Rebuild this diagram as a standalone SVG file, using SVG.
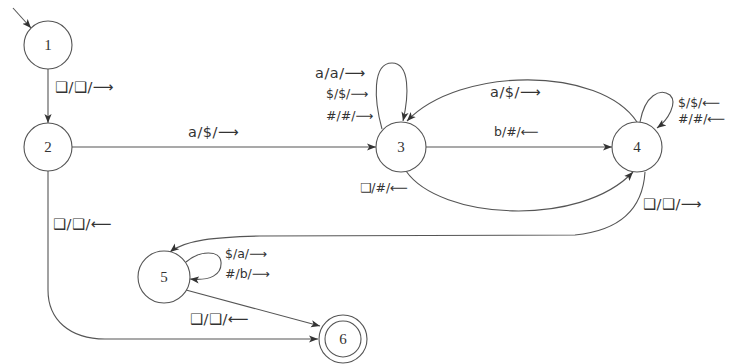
<svg xmlns="http://www.w3.org/2000/svg" width="736" height="364" viewBox="0 0 736 364">
<style>
.st{fill:#fff;stroke:#555;stroke-width:1.1}
.num{font-family:"Liberation Serif",serif;font-size:15px;fill:#333;text-anchor:middle}
.e{fill:none;stroke:#555;stroke-width:1.1;marker-end:url(#ah)}
.lb{font-family:"DejaVu Sans","Liberation Sans",sans-serif;font-size:14.5px;fill:#333;letter-spacing:0.5px}
.sm{font-size:12.5px;letter-spacing:0}
</style>
<defs>
<marker id="ah" viewBox="0 0 10 10" refX="10" refY="5" markerWidth="9" markerHeight="9" markerUnits="userSpaceOnUse" orient="auto">
<path d="M0,1 L10,5 L0,9 L2.5,5 Z" fill="#333"/>
</marker>
</defs>
<g id="connectors">
<path class="e" d="M13,8 L31,28"/>
<path class="e" d="M48,69 L48,123"/>
<path class="e" d="M72,147 L376,147"/>
<path class="e" d="M426,147 L612,147"/>
<path class="e" d="M382,129 C374,100 372,63 392,63 C410,63 409,95 403,121"/>
<path class="e" d="M637,122 C600,66 460,66 407,121"/>
<path class="e" d="M640,122 C645,95 660,88 670,95 C678,103 668,120 657,128"/>
<path class="e" d="M406,171 C440,220 580,228 633,172"/>
<path class="e" d="M645,172 C643,205 625,230 575,235 L260,236 C215,237 185,240 170,252"/>
<path class="e" d="M186,262 C200,250 220,250 221,262 C222,275 210,281 190,279"/>
<path class="e" d="M186,290 L320,326"/>
<path class="e" d="M48,171 L48,290 C48,320 70,339 105,339 L318,339"/>
</g>
<g id="n1"><circle class="st" cx="48" cy="45" r="24"/><text class="num" x="48" y="50">1</text></g>
<g id="n2"><circle class="st" cx="48" cy="147" r="24"/><text class="num" x="48" y="152">2</text></g>
<g id="n3"><circle class="st" cx="401" cy="147" r="25"/><text class="num" x="401" y="152">3</text></g>
<g id="n4"><circle class="st" cx="637" cy="147" r="25"/><text class="num" x="637" y="152">4</text></g>
<g id="n5"><circle class="st" cx="164" cy="277" r="26"/><text class="num" x="164" y="282">5</text></g>
<g id="n6"><circle class="st" cx="343" cy="339" r="24"/><circle class="st" cx="343" cy="339" r="18"/><text class="num" x="343" y="344">6</text></g>
<g id="labels">
<text class="lb" x="55" y="92">❑/❑/⟶</text>
<text class="lb" x="188" y="137">a/$/⟶</text>
<text class="lb" x="315" y="78">a/a/⟶</text>
<text class="lb sm" x="326" y="98">$/$/⟶</text>
<text class="lb sm" x="326" y="120">#/#/⟶</text>
<text class="lb sm" x="360" y="192">❑/#/⟵</text>
<text class="lb" x="490" y="97">a/$/⟶</text>
<text class="lb sm" x="494" y="136">b/#/⟵</text>
<text class="lb sm" x="678" y="107">$/$/⟵</text>
<text class="lb sm" x="678" y="123">#/#/⟵</text>
<text class="lb" x="643" y="209">❑/❑/⟶</text>
<text class="lb" x="53" y="229">❑/❑/⟵</text>
<text class="lb sm" x="225" y="258">$/a/⟶</text>
<text class="lb sm" x="225" y="278">#/b/⟶</text>
<text class="lb" x="190" y="324">❑/❑/⟵</text>
</g>
</svg>
